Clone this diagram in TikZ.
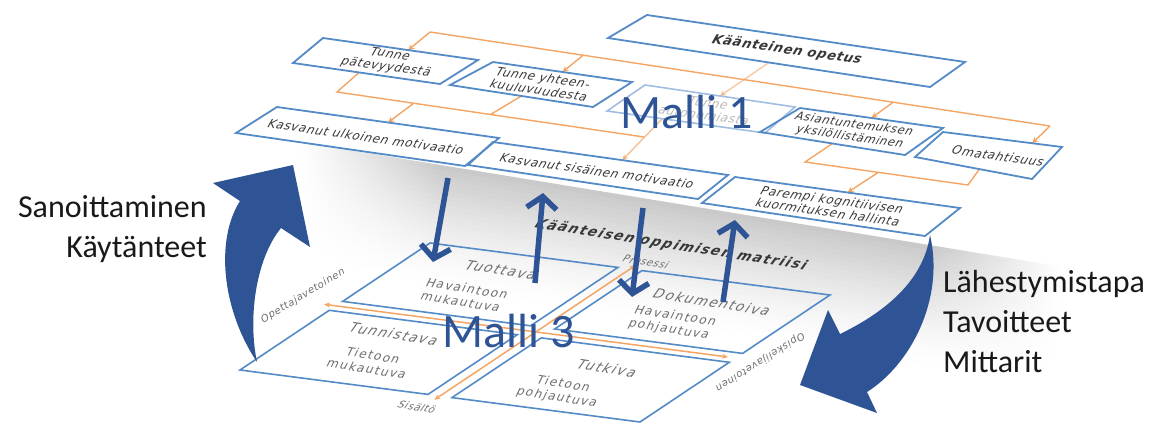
\documentclass[tikz,border=0pt]{standalone}
\usepackage{fontspec}
\usetikzlibrary{arrows.meta,calc}
\newfontfamily\planefont[LetterSpace=6]{DejaVu Sans}
\newfontfamily\mallifont{Carlito}
\newfontfamily\matfont[LetterSpace=12]{DejaVu Sans}
\definecolor{boxblue}{RGB}{84,138,198}
\definecolor{paleblue}{RGB}{160,190,225}
\definecolor{linkorange}{RGB}{244,165,100}
\definecolor{arrowblue}{RGB}{46,84,150}
\definecolor{textgray}{RGB}{55,55,55}
\definecolor{matgray}{RGB}{110,110,110}
\definecolor{labelblack}{RGB}{25,25,25}
\tikzset{
  planebox/.style={draw=boxblue, line width=1.8pt, line join=miter},
  ghostbox/.style={draw=paleblue, line width=1.6pt},
  link/.style={draw=linkorange, line width=1.4pt},
  linkarrow/.style={link, -{Stealth[length=6pt,width=6pt]}},
  ptext/.style={font={\planefont\itshape\fontsize{12}{13}\selectfont}, text=textgray,
    rotate=-8, xslant=0.2, align=center, inner sep=0pt},
  quad/.style={draw=boxblue, line width=1.6pt},
  axis/.style={draw=linkorange, line width=1.5pt, {Stealth[length=6pt,width=5pt]}-{Stealth[length=6pt,width=5pt]}},
  mtitle/.style={font={\matfont\itshape\fontsize{13.5}{15}\selectfont}, text=matgray,
    rotate=-9, xslant=0.3, inner sep=0pt},
  mtext/.style={font={\matfont\fontsize{12}{14}\selectfont}, text=matgray,
    rotate=-9, xslant=0.3, align=center, inner sep=0pt},
  axislabel/.style={font={\planefont\itshape\fontsize{10}{12}\selectfont}, text=matgray, inner sep=0pt},
  flow/.style={draw=arrowblue, line width=5.5pt, -{Straight Barb[length=12pt,width=30pt]}},
  malli/.style={font={\mallifont\fontsize{48}{50}\selectfont}, text=arrowblue, inner sep=0pt},
  sidelabel/.style={font={\mallifont\fontsize{32}{40}\selectfont}, text=labelblack, inner sep=0pt}
}
\begin{document}
\begin{tikzpicture}[x=1pt,y=-1pt]
\useasboundingbox (0,0) rectangle (1154,423);

% ---------- soft shadow under the upper plane ----------
\foreach \i in {0,...,23}{
  \pgfmathsetmacro\k{21*(1-\i/24)^1.4}
  \pgfmathsetmacro\ya{\i*5}
  \pgfmathsetmacro\yb{\i*5+5.8}
  \shade[left color=white, right color=black!\k]
    (300,142+\ya) -- (440,164.9+\ya) -- (440,164.9+\yb) -- (300,142+\yb) -- cycle;
  \fill[black!\k]
    (439.5,164.8+\ya) -- (930.5,245.2+\ya) -- (930.5,245.2+\yb) -- (439.5,164.8+\yb) -- cycle;
  \shade[left color=black!\k, right color=white]
    (930,245.1+\ya) -- (1060,266.4+\ya) -- (1060,266.4+\yb) -- (930,245.1+\yb) -- cycle;
}

% ---------- upper plane: boxes ----------
\coordinate (koTL) at (647,15);  \coordinate (koTR) at (965,62);  \coordinate (koBR) at (930,87);  \coordinate (koBL) at (608,38);
\coordinate (tpTL) at (323,38);  \coordinate (tpTR) at (478,60);  \coordinate (tpBR) at (440,84);  \coordinate (tpBL) at (293,63);
\coordinate (tyTL) at (493,62);  \coordinate (tyTR) at (632,82);  \coordinate (tyBR) at (593,107); \coordinate (tyBL) at (450,85);
\coordinate (taTL) at (645,85);  \coordinate (taTR) at (795,107); \coordinate (taBR) at (765,133); \coordinate (taBL) at (607,111);
\coordinate (asTL) at (800,108); \coordinate (asTR) at (943,128); \coordinate (asBR) at (905,155); \coordinate (asBL) at (760,132);
\coordinate (omTL) at (943,132); \coordinate (omTR) at (1062,147);\coordinate (omBR) at (1032,179);\coordinate (omBL) at (915,157);
\coordinate (kuTL) at (277,107); \coordinate (kuTR) at (499,138); \coordinate (kuBR) at (465,166); \coordinate (kuBL) at (236,133);
\coordinate (ksTL) at (493,142); \coordinate (ksTR) at (728,175); \coordinate (ksBR) at (698,199); \coordinate (ksBL) at (468,165);
\coordinate (pkTL) at (735,177); \coordinate (pkTR) at (960,208); \coordinate (pkBR) at (925,236); \coordinate (pkBL) at (702,203);

% ---------- upper plane: connectors ----------
\coordinate (busA0) at (430,32);  \coordinate (busA1) at (1050,126);
\coordinate (busB0) at (337,92);  \coordinate (busB1) at (644,137);
\coordinate (busC0) at (805,162); \coordinate (busC1) at (968,185);

\draw[link] (busA0) -- (busA1);
\draw[linkarrow] (busA0) -- ($(tpTL)!0.55!(tpTR)$);
\draw[linkarrow] ($(busA0)!0.247!(busA1)$) -- ($(tyTL)!0.5!(tyTR)$);
\draw[linkarrow] ($(busA0)!0.747!(busA1)$) -- ($(asTL)!0.5!(asTR)$);
\draw[linkarrow] (busA1) -- ($(omTL)!0.75!(omTR)$);
\draw[linkarrow, opacity=0.6] ($(koBL)!0.5!(koBR)$) -- ($(taTL)!0.5!(taTR)$);

\draw[link] ($(tpBL)!0.45!(tpBR)$) -- (busB0) -- (busB1);
\draw[link] ($(tyBL)!0.5!(tyBR)$) -- ($(busB0)!0.5!(busB1)$);
\draw[linkarrow] ($(busB0)!0.25!(busB1)$) -- ($(kuTL)!0.5!(kuTR)$);
\draw[linkarrow, opacity=0.7] ($(taBL)!0.35!(taBR)$) -- ($(ksTL)!0.55!(ksTR)$);

\draw[link] ($(asBL)!0.5!(asBR)$) -- (busC0) -- (busC1) -- ($(omBL)!0.55!(omBR)$);
\draw[linkarrow] ($(busC0)!0.45!(busC1)$) -- ($(pkTL)!0.5!(pkTR)$);

\draw[planebox] (koTL) -- (koTR) -- (koBR) -- (koBL) -- cycle;
\draw[planebox] (tpTL) -- (tpTR) -- (tpBR) -- (tpBL) -- cycle;
\draw[planebox] (tyTL) -- (tyTR) -- (tyBR) -- (tyBL) -- cycle;
\draw[ghostbox] (taTL) -- (taTR) -- (taBR) -- (taBL) -- cycle;
\draw[planebox] (asTL) -- (asTR) -- (asBR) -- (asBL) -- cycle;
\draw[planebox] (omTL) -- (omTR) -- (omBR) -- (omBL) -- cycle;
\draw[planebox] (kuTL) -- (kuTR) -- (kuBR) -- (kuBL) -- cycle;
\draw[planebox] (ksTL) -- (ksTR) -- (ksBR) -- (ksBL) -- cycle;
\draw[planebox] (pkTL) -- (pkTR) -- (pkBR) -- (pkBL) -- cycle;

\node[ptext, font={\planefont\bfseries\itshape\fontsize{13}{15}\selectfont}] (ko) at (787,50) {Käänteinen opetus};
\node[ptext] (tp) at (388,61) {Tunne\\pätevyydestä};
\node[ptext] (ty) at (541,84) {Tunne yhteen-\\kuuluvuudesta};
\node[ptext, opacity=0.35] (ta) at (706,109) {Tunne\\autonomiasta};
\node[ptext, font={\planefont\itshape\fontsize{11.5}{13}\selectfont}] (as) at (852,131) {Asiantuntemuksen\\yksilöllistäminen};
\node[ptext] (om) at (998,156) {Omatahtisuus};
\node[ptext] (ku) at (366,137) {Kasvanut ulkoinen motivaatio};
\node[ptext] (ks) at (597,171) {Kasvanut sisäinen motivaatio};
\node[ptext] (pk) at (830,206) {Parempi kognitiivisen\\kuormituksen hallinta};

% ---------- lower plane: matrix ----------
\coordinate (tuTL) at (430,243);   \coordinate (tuTR) at (618,267.4); \coordinate (tuBR) at (530.6,325.8); \coordinate (tuBL) at (342.6,301.4);
\coordinate (doTL) at (642,270.6); \coordinate (doTR) at (830,295);   \coordinate (doBR) at (742.6,353.4); \coordinate (doBL) at (554.6,329);
\coordinate (tnTL) at (329.3,310.3); \coordinate (tnTR) at (517.3,334.7); \coordinate (tnBR) at (428,394.4); \coordinate (tnBL) at (240,370);
\coordinate (tkTL) at (541.3,337.9); \coordinate (tkTR) at (729.3,362.3); \coordinate (tkBR) at (640,422); \coordinate (tkBL) at (452,397.6);

\draw[quad] (tuTL) -- (tuTR) -- (tuBR) -- (tuBL) -- cycle;
\draw[quad] (doTL) -- (doTR) -- (doBR) -- (doBL) -- cycle;
\draw[quad] (tnTL) -- (tnTR) -- (tnBR) -- (tnBL) -- cycle;
\draw[quad] (tkTL) -- (tkTR) -- (tkBR) -- (tkBL) -- cycle;

\coordinate (axL) at (324,304.3);  \coordinate (axR) at (728,357);
\coordinate (axB) at (434.3,399.8); \coordinate (axT) at (635.7,265.2);
\draw[axis] (axL) -- (axR);
\draw[axis] (axB) -- (axT);

\node[axislabel, rotate=-9, xslant=0.3] (prosessi) at (646,262) {Prosessi};
\node[axislabel, rotate=-9, xslant=0.3] (sisalto) at (417,407) {Sisältö};
\node[axislabel, rotate=31] (opettaja) at (303,296) {Opettajavetoinen};
\node[axislabel, rotate=212] (opiskelija) at (760,362) {Opiskelijavetoinen};

\node[mtitle, font={\matfont\bfseries\itshape\fontsize{13.5}{15}\selectfont}, text=textgray] (title) at (671,245) {Käänteisen oppimisen matriisi};

\node[mtitle] (tuottava) at (501,270) {Tuottava};
\node[mtext] (tusub) at (464,295) {Havaintoon\\mukautuva};
\node[mtitle] (tunnistava) at (394,334) {Tunnistava};
\node[mtext] (tnsub) at (370,362) {Tietoon\\mukautuva};
\node[mtitle] (dokumentoiva) at (712,302) {Dokumentoiva};
\node[mtext] (dosub) at (672,323) {Havaintoon\\pohjautuva};
\node[mtitle] (tutkiva) at (607,368) {Tutkiva};
\node[mtext] (tksub) at (560,391) {Tietoon\\pohjautuva};

% ---------- vertical flows between the planes ----------
\coordinate (f1s) at (448,178); \coordinate (f1e) at (433,262);
\coordinate (f2s) at (535,283); \coordinate (f2e) at (543,193);
\coordinate (f3s) at (643,208); \coordinate (f3e) at (632,297);
\coordinate (f4s) at (723,302); \coordinate (f4e) at (735,220);
\draw[flow] (f1s) -- (f1e);
\draw[flow] (f2s) -- (f2e);
\draw[flow] (f3s) -- (f3e);
\draw[flow] (f4s) -- (f4e);

% ---------- curved arrows at the sides ----------
\fill[arrowblue] (257,362) .. controls (222,310) and (215,240) .. (240,201)
  -- (213,183) -- (293,165) -- (310,247) -- (281,228)
  .. controls (255,260) and (248,320) .. (257,362) -- cycle;
\fill[arrowblue] (930,235) .. controls (945,300) and (910,365) .. (867,392)
  -- (877,413) -- (800,385) -- (828,310) -- (840,334)
  .. controls (900,305) and (925,270) .. (930,235) -- cycle;

% ---------- model labels ----------
\node[malli, anchor=base] (malli1) at (687,128) {Malli 1};
\node[malli, anchor=base] (malli3) at (509,347) {Malli 3};

% ---------- side labels ----------
\node[sidelabel, anchor=base east] (sanoit) at (207,217) {Sanoittaminen};
\node[sidelabel, anchor=base east] (kayt) at (207,257) {Käytänteet};
\node[sidelabel, anchor=base west] (lahest) at (943,292) {Lähestymistapa};
\node[sidelabel, anchor=base west] (tavoit) at (943,332) {Tavoitteet};
\node[sidelabel, anchor=base west] (mitt) at (943,372) {Mittarit};
\end{tikzpicture}
\end{document}
